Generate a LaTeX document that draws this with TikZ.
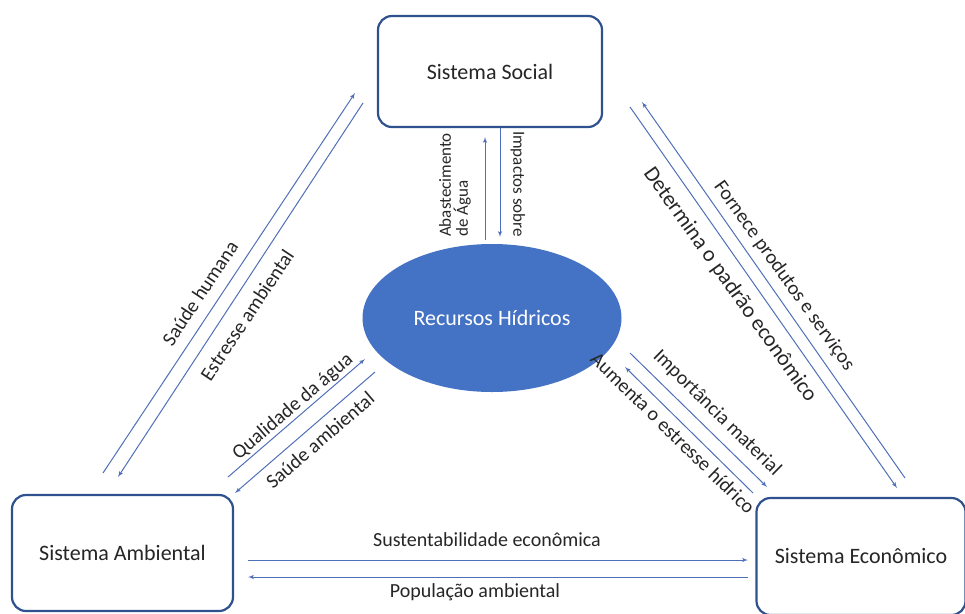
\documentclass[tikz,border=0pt]{standalone}
\usepackage{fontspec}
\setmainfont{Carlito}
\usetikzlibrary{arrows}
\usetikzlibrary{shapes.geometric}
\definecolor{borda}{HTML}{2F528F}
\definecolor{azul}{HTML}{4472C4}
\definecolor{seta}{HTML}{4F6FB8}
\definecolor{texto}{HTML}{262626}

\begin{document}
\begin{tikzpicture}[x=1pt,y=-1pt,inner sep=1pt,>=latex',
  sistema/.style={draw=borda,line width=2.2pt,rounded corners=14pt,fill=white,text=texto,font=\fontsize{22}{26}\selectfont},
  fluxo/.style={->,draw=seta,line width=1pt},
  rotulo/.style={text=texto,font=\fontsize{20}{22}\selectfont}]
\useasboundingbox (0,0) rectangle (965,613);
% sistemas
\node [sistema,minimum width=224pt,minimum height=111pt] (social) at (490,71.5) {Sistema Social};
\node [sistema,minimum width=221pt,minimum height=116pt] (ambiental) at (122.5,553) {Sistema Ambiental};
\node [sistema,minimum width=209pt,minimum height=117pt] (economico) at (861,556.5) {Sistema Econômico};
\node [ellipse,fill=azul,text=white,minimum width=259pt,minimum height=148pt,font=\fontsize{22}{26}\selectfont] (agua) at (492,318) {Recursos Hídricos};
% pontas das setas
\coordinate (sh1) at (103,473);  \coordinate (sh2) at (355,93);
\coordinate (ea1) at (363,103);  \coordinate (ea2) at (118,477);
\coordinate (qa1) at (228,477);  \coordinate (qa2) at (365,359);
\coordinate (sa1) at (375,372);  \coordinate (sa2) at (235,493);
\coordinate (ab1) at (485,240);  \coordinate (ab2) at (485,137);
\coordinate (ip1) at (500,128);  \coordinate (ip2) at (500,237);
\coordinate (fp1) at (905,478);  \coordinate (fp2) at (642,102);
\coordinate (dp1) at (630,107);  \coordinate (dp2) at (897,488);
\coordinate (im1) at (630,353);  \coordinate (im2) at (767,487);
\coordinate (ae1) at (753,493);  \coordinate (ae2) at (625,367);
\coordinate (se1) at (248,560);  \coordinate (se2) at (748,560);
\coordinate (pa1) at (748,577);  \coordinate (pa2) at (248,577);
% setas
\draw [fluxo] (sh1) -- (sh2);
\draw [fluxo] (ea1) -- (ea2);
\draw [fluxo] (qa1) -- (qa2);
\draw [fluxo] (sa1) -- (sa2);
\draw [fluxo] (ab1) -- (ab2);
\draw [fluxo] (ip1) -- (ip2);
\draw [fluxo] (fp1) -- (fp2);
\draw [fluxo] (dp1) -- (dp2);
\draw [fluxo] (im1) -- (im2);
\draw [fluxo] (ae1) -- (ae2);
\draw [fluxo] (se1) -- (se2);
\draw [fluxo] (pa1) -- (pa2);
% rotulos
\node [rotulo,rotate=56.4] (lsh) at (200,293) {Saúde humana};
\node [rotulo,rotate=56.4] (lea) at (247,315) {Estresse ambiental};
\node [rotulo,rotate=40.7] (lqa) at (293,407) {Qualidade da água};
\node [rotulo,rotate=40.7] (lsa) at (320,440) {Saúde ambiental};
\node [rotulo,rotate=90,align=left,font=\fontsize{17}{17}\selectfont] (lab) at (455,185) {Abastecimento\\de Água};
\node [rotulo,rotate=-90,font=\fontsize{17}{19}\selectfont] (lip) at (518,184) {Impactos sobre};
\node [rotulo,rotate=-54.5] (lfp) at (784,276) {Fornece produtos e serviços};
\node [rotulo,rotate=-54.5,font=\fontsize{22}{24}\selectfont] (ldp) at (730,285) {Determina o padrão econômico};
\node [rotulo,rotate=-44.4] (lim) at (717,413) {Importância material};
\node [rotulo,rotate=-44.4] (lae) at (673,433) {Aumenta o estresse hídrico};
\node [rotulo] (lse) at (487,540) {Sustentabilidade econômica};
\node [rotulo] (lpa) at (475,592) {População ambiental};
\end{tikzpicture}
\end{document}
